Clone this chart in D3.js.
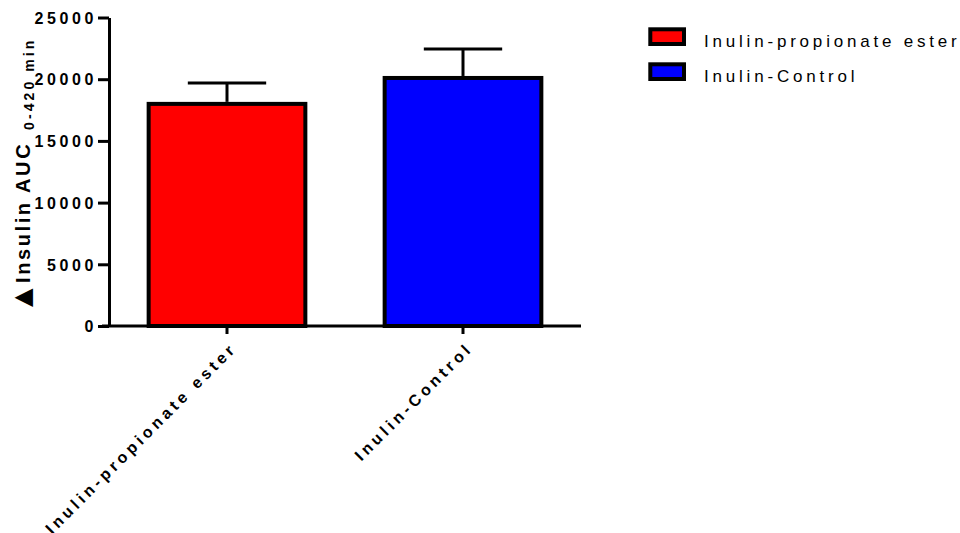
<!DOCTYPE html>
<html>
<head>
<meta charset="utf-8">
<script src="https://cdn.jsdelivr.net/npm/d3@7/dist/d3.min.js"></script>
<style>
  body { margin: 0; background: #fff; }
  svg { display: block; }
</style>
</head>
<body>
<svg id="chart" width="960" height="533"></svg>
<script>
const categories = ["Inulin-propionate ester", "Inulin-Control"];
const means = [18000, 20100];
const errors = [1700, 2350];
const colors = ["#ff0000", "#0000ff"];
const yTicks = [0, 5000, 10000, 15000, 20000, 25000];
const yTitle = "Insulin AUC";
const ySub = "0-420 min";

const svg = d3.select("#chart");
const FONT = "'Liberation Sans', Arial, Helvetica, sans-serif";

const y = d3.scaleLinear().domain([0, 25000]).range([326, 17.5]);
const x = d3.scaleBand().domain(categories).range([109, 581])
  .paddingInner(0.336).paddingOuter(0.168);

// bars
const bars = svg.append("g");
bars.selectAll("rect").data(categories).join("rect")
  .attr("x", d => x(d))
  .attr("width", x.bandwidth())
  .attr("y", (d, i) => y(means[i]))
  .attr("height", (d, i) => y(0) - y(means[i]))
  .attr("fill", (d, i) => colors[i])
  .attr("stroke", "#000")
  .attr("stroke-width", 4);

// error bars
const capW = x.bandwidth() / 2;
const eb = svg.append("g").attr("stroke", "#000").attr("stroke-width", 3);
eb.selectAll("line.stem").data(categories).join("line").attr("class", "stem")
  .attr("x1", d => x(d) + x.bandwidth() / 2)
  .attr("x2", d => x(d) + x.bandwidth() / 2)
  .attr("y1", (d, i) => y(means[i]) - 2)
  .attr("y2", (d, i) => y(means[i] + errors[i]));
eb.selectAll("line.cap").data(categories).join("line").attr("class", "cap")
  .attr("x1", d => x(d) + x.bandwidth() / 2 - capW / 2)
  .attr("x2", d => x(d) + x.bandwidth() / 2 + capW / 2)
  .attr("y1", (d, i) => y(means[i] + errors[i]))
  .attr("y2", (d, i) => y(means[i] + errors[i]));

// y axis
const yAxis = svg.append("g").attr("transform", "translate(109,0)")
  .call(d3.axisLeft(y).tickValues(yTicks).tickSize(11).tickSizeOuter(0).tickFormat(d3.format("d")));
yAxis.select(".domain").attr("stroke-width", 3);
yAxis.selectAll(".tick line").attr("stroke-width", 3);
yAxis.selectAll(".tick text")
  .attr("x", -12)
  .attr("dy", "0.36em")
  .style("font-family", FONT).style("font-weight", "bold").style("font-size", "16px")
  .style("letter-spacing", "3.6px").attr("fill", "#000");

// x axis
const xAxis = svg.append("g").attr("transform", "translate(0,326)")
  .call(d3.axisBottom(x).tickSize(8).tickSizeOuter(0));
xAxis.select(".domain").remove();
xAxis.append("line").attr("x1", 102).attr("x2", 581).attr("y1", 0).attr("y2", 0)
  .attr("stroke", "#000").attr("stroke-width", 3);
xAxis.selectAll(".tick text")
  .attr("x", 0).attr("y", 0).attr("dy", 0)
  .attr("text-anchor", "end")
  .attr("transform", "translate(11,23) rotate(-45)")
  .style("font-family", FONT).style("font-weight", "bold").style("font-size", "16px")
  .style("letter-spacing", "3.9px").attr("fill", "#000");
xAxis.selectAll(".tick line").attr("stroke-width", 3);

// y title
const yt = svg.append("text")
  .attr("transform", "translate(29.5,307) rotate(-90)")
  .attr("fill", "#000")
  .style("font-family", FONT).style("font-weight", "bold");
yt.append("tspan").attr("x", 0).attr("y", 0)
  .style("font-family", "'DejaVu Sans', sans-serif").style("font-size", "24px").text("▲");
yt.append("tspan").attr("x", 24).attr("y", 0)
  .style("font-size", "20px").style("letter-spacing", "2.6px").text(yTitle);
yt.append("tspan").attr("x", 177).attr("y", 4.5)
  .style("font-size", "14px").style("letter-spacing", "3.1px").text(ySub);

// legend
const leg = svg.append("g");
categories.forEach((c, i) => {
  const g = leg.append("g").attr("transform", `translate(0,${i * 35})`);
  g.append("rect").attr("x", 650.3).attr("y", 29.3).attr("width", 33.7).attr("height", 14.7)
    .attr("fill", colors[i]).attr("stroke", "#000").attr("stroke-width", 4);
  g.append("text").attr("x", 704).attr("y", 46.5)
    .style("font-family", FONT).style("font-size", "17px").style("letter-spacing", "3.8px")
    .attr("fill", "#000").text(c);
});
</script>
</body>
</html>
